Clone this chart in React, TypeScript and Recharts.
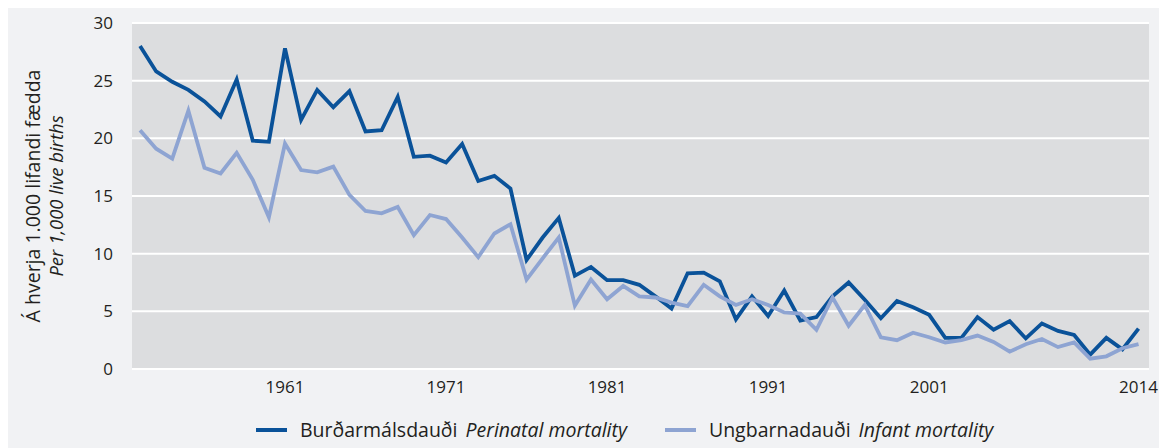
import React from 'react';
import { LineChart, Line, XAxis, YAxis, CartesianGrid, Label } from 'recharts';

const years: number[] = [
    1952, 1953, 1954, 1955, 1956, 1957, 1958, 1959, 1960, 1961,
    1962, 1963, 1964, 1965, 1966, 1967, 1968, 1969, 1970, 1971,
    1972, 1973, 1974, 1975, 1976, 1977, 1978, 1979, 1980, 1981,
    1982, 1983, 1984, 1985, 1986, 1987, 1988, 1989, 1990, 1991,
    1992, 1993, 1994, 1995, 1996, 1997, 1998, 1999, 2000, 2001,
    2002, 2003, 2004, 2005, 2006, 2007, 2008, 2009, 2010, 2011,
    2012, 2013, 2014,
];

// Burðarmálsdauði (perinatal mortality)
const perinatal: number[] = [
    28.0, 25.8, 24.9, 24.2, 23.2, 21.9, 25.1, 19.8, 19.7, 27.8,
    21.6, 24.2, 22.7, 24.1, 20.6, 20.7, 23.6, 18.4, 18.5, 17.9,
    19.5, 16.3, 16.75, 15.65, 9.45, 11.4, 13.1, 8.1, 8.85, 7.7,
    7.7, 7.3, 6.3, 5.25, 8.3, 8.35, 7.6, 4.3, 6.3, 4.6,
    6.8, 4.2, 4.5, 6.3, 7.5, 6.0, 4.4, 5.9, 5.35, 4.7,
    2.7, 2.7, 4.5, 3.4, 4.15, 2.65, 3.95, 3.3, 2.95, 1.25,
    2.7, 1.7, 3.5,
];

// Ungbarnadauði (infant mortality)
const infant: number[] = [
    20.7, 19.1, 18.25, 22.4, 17.45, 16.95, 18.75, 16.4, 13.15, 19.55,
    17.25, 17.05, 17.55, 15.1, 13.7, 13.5, 14.05, 11.6, 13.35, 13.0,
    11.4, 9.7, 11.75, 12.55, 7.75, 9.6, 11.4, 5.5, 7.75, 6.05,
    7.2, 6.3, 6.2, 5.75, 5.45, 7.3, 6.3, 5.55, 6.05, 5.55,
    4.9, 4.8, 3.4, 6.2, 3.75, 5.55, 2.75, 2.5, 3.15, 2.75,
    2.3, 2.5, 2.9, 2.35, 1.5, 2.15, 2.6, 1.9, 2.3, 0.9,
    1.1, 1.8, 2.15,
];

const xTicks: number[] = [1961, 1971, 1981, 1991, 2001, 2014];
const yTicks: number[] = [0, 5, 10, 15, 20, 25, 30];

const series = [
    { key: 'perinatal', name: 'Burðarmálsdauði', en: 'Perinatal mortality', color: '#0a5299' },
    { key: 'infant', name: 'Ungbarnadauði', en: 'Infant mortality', color: '#8ea4d2' },
];

const data = years.map((year, i) => ({
    year,
    perinatal: perinatal[i],
    infant: infant[i],
}));

const font = '"Open Sans", "Noto Sans", sans-serif';
const textColor = '#231f20';

const YLabel = (props: any) => {
    const vb = props.viewBox || { x: 0, y: 23, width: 124, height: 346 };
    const cy = vb.y + vb.height / 2;
    return (
        <g fontFamily={font} fill={textColor}>
            <text x={32} y={cy} fontSize={19.5} textAnchor="middle" transform={`rotate(-90, 32, ${cy})`}>
                Á hverja 1.000 lifandi fædda
            </text>
            <text x={55} y={cy} fontSize={18.5} textAnchor="middle" fontStyle="italic" transform={`rotate(-90, 55, ${cy})`}>
                Per 1,000 live births
            </text>
        </g>
    );
};

export default function App() {
    return (
        <div style={{ marginTop: -8, position: 'relative', width: 1159, height: 448, background: '#f1f2f4', fontFamily: font }}>
            <LineChart
                width={1159}
                height={448}
                data={data}
                margin={{ top: 23, right: 18, bottom: 0, left: 0 }}
            >
                <CartesianGrid vertical={false} stroke="#ffffff" strokeWidth={2} fill="#dcdddf" />
                <XAxis
                    dataKey="year"
                    type="number"
                    domain={[1951.5, 2014.65]}
                    ticks={xTicks}
                    axisLine={false}
                    tickLine={false}
                    tickSize={4}
                    tickMargin={8}
                    height={79}
                    tick={{ fill: textColor, fontSize: 17, fontFamily: font }}
                />
                <YAxis
                    domain={[0, 30]}
                    ticks={yTicks}
                    axisLine={false}
                    tickLine={false}
                    tickSize={10}
                    tickMargin={9}
                    width={124}
                    tick={{ fill: textColor, fontSize: 17, fontFamily: font }}
                >
                    <Label content={YLabel} />
                </YAxis>
                {series.map((s) => (
                    <Line
                        key={s.key}
                        type="linear"
                        dataKey={s.key}
                        stroke={s.color}
                        strokeWidth={3.8}
                        dot={false}
                        isAnimationActive={false}
                    />
                ))}
            </LineChart>
            <div
                style={{
                    position: 'absolute',
                    top: 416,
                    left: 248,
                    display: 'flex',
                    alignItems: 'center',
                    fontSize: 19.5,
                    color: textColor,
                    whiteSpace: 'nowrap',
                }}
            >
                {series.map((s, i) => (
                    <div key={s.key} style={{ display: 'flex', alignItems: 'center', marginRight: i === 0 ? 38 : 0 }}>
                        <span style={{ display: 'inline-block', width: 31, height: 4, background: s.color, marginRight: 13 }} />
                        <span>{s.name}</span>
                        <span style={{ fontStyle: 'italic', marginLeft: 8 }}>{s.en}</span>
                    </div>
                ))}
            </div>
        </div>
    );
}
